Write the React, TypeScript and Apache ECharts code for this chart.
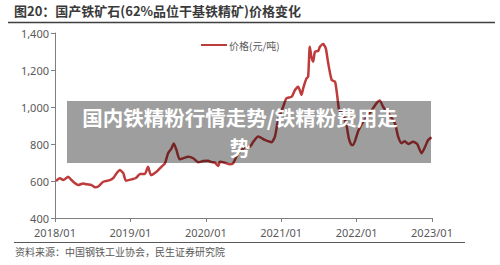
import React, { useEffect, useRef } from "react";
import * as echarts from "echarts";

const titleText = "图20：国产铁矿石(62%品位干基铁精矿)价格变化";
const sourceText = "资料来源：中国钢铁工业协会，民生证券研究院";
const overlayLines = ["国内铁精粉行情走势/铁精粉费用走", "势"];
const seriesName = "价格(元/吨)";
const xTickLabels = ["2018/01", "2019/01", "2020/01", "2021/01", "2022/01", "2023/01"];
const yTicks = [400, 600, 800, 1000, 1200, 1400];

const dates = [
  "2018-01-06", "2018-01-25", "2018-02-10", "2018-03-04", "2018-03-20", "2018-04-22",
  "2018-05-16", "2018-06-02", "2018-06-26", "2018-07-12", "2018-07-28", "2018-08-22",
  "2018-09-23", "2018-10-09", "2018-10-26", "2018-11-11", "2018-11-27", "2018-12-10",
  "2019-01-07", "2019-01-28", "2019-02-16", "2019-03-10", "2019-03-26", "2019-04-09",
  "2019-05-06", "2019-05-30", "2019-06-16", "2019-07-01", "2019-07-18", "2019-07-29",
  "2019-08-11", "2019-08-27", "2019-09-13", "2019-10-07", "2019-11-01", "2019-11-25",
  "2019-12-19", "2020-01-12", "2020-01-30", "2020-02-14", "2020-03-01", "2020-03-08",
  "2020-04-02", "2020-04-26", "2020-05-12", "2020-06-06", "2020-07-16", "2020-08-01",
  "2020-08-18", "2020-09-11", "2020-10-13", "2020-11-15", "2020-12-01", "2020-12-17",
  "2021-01-11", "2021-01-27", "2021-02-20", "2021-03-07", "2021-03-23", "2021-04-08",
  "2021-04-16", "2021-05-02", "2021-05-10", "2021-05-18", "2021-05-26", "2021-06-04",
  "2021-06-12", "2021-06-28", "2021-07-06", "2021-07-22", "2021-08-04", "2021-08-16",
  "2021-09-02", "2021-09-18", "2021-09-29", "2021-10-08", "2021-10-27", "2021-11-13",
  "2021-11-24", "2021-12-07", "2021-12-15", "2022-01-09", "2022-02-02", "2022-03-04",
  "2022-04-06", "2022-04-22", "2022-05-08", "2022-06-02", "2022-07-04", "2022-07-20",
  "2022-08-06", "2022-08-22", "2022-09-08", "2022-10-01", "2022-10-21", "2022-11-11",
  "2022-11-28", "2022-12-13", "2022-12-30",
];

const prices = [
  600, 615, 605, 623, 605, 578,
  587, 582, 578, 566, 570, 596,
  605, 615, 642, 659, 642, 602,
  609, 616, 638, 638, 677, 632,
  650, 677, 696, 750, 777, 803,
  768, 717, 723, 731, 723, 701,
  708, 710, 702, 699, 681, 704,
  699, 690, 696, 750, 785, 785,
  812, 840, 822, 810, 840, 930,
  1002, 1047, 1056, 1092, 1110, 1065,
  1101, 1155, 1164, 1326, 1272, 1245,
  1299, 1304, 1326, 1340, 1317, 1236,
  1146, 1137, 1056, 984, 960, 900,
  830, 795, 795, 870, 920, 966,
  1020, 1035, 1000, 966, 912, 840,
  804, 815, 800, 812, 800, 750,
  785, 822, 836,
];

function monthIndex(d: string): number {
  const [y, m, day] = d.split("-").map(Number);
  const dim = new Date(Date.UTC(y, m, 0)).getUTCDate();
  return (y - 2018) * 12 + (m - 1) + (day - 1) / dim;
}

export default function App() {
  const ref = useRef<HTMLDivElement>(null);
  useEffect(() => {
    if (!ref.current) return;
    const chart = echarts.init(ref.current, undefined, { renderer: "svg" });
    const data = dates.map((d, i) => [monthIndex(d), prices[i]]);
    const font = "'Noto Sans CJK SC', 'Noto Sans', sans-serif";
    const numFont = "'Noto Sans', 'Open Sans', sans-serif";
    chart.setOption({
      animation: false,
      textStyle: { fontFamily: font },
      grid: { left: 55, right: 68, top: 33, bottom: 47, containLabel: false },
      legend: {
        data: [seriesName],
        left: 196,
        top: 35,
        itemWidth: 26,
        itemHeight: 10,
        itemGap: 2,
        icon: "path://M0,4L26,4L26,6L0,6Z",
        textStyle: { fontSize: 10, color: "#595959", fontFamily: font, padding: [0, 0, 0, -3] },
      },
      xAxis: {
        type: "value",
        min: 0,
        max: 60,
        interval: 12,
        axisLine: { lineStyle: { color: "#7f7f7f", width: 1 } },
        axisTick: { show: true, length: 4, lineStyle: { color: "#7f7f7f" } },
        splitLine: { show: false },
        axisLabel: {
          color: "#595959",
          fontSize: 11,
          fontFamily: numFont,
          margin: 9,
          formatter: (v: number) => xTickLabels[Math.round(v / 12)] ?? "",
        },
      },
      yAxis: {
        type: "value",
        min: yTicks[0],
        max: yTicks[yTicks.length - 1],
        interval: 200,
        axisLine: { show: true, lineStyle: { color: "#7f7f7f", width: 1 } },
        axisTick: { show: true, length: 4, lineStyle: { color: "#7f7f7f" } },
        splitLine: { show: false },
        axisLabel: {
          color: "#595959",
          fontSize: 11,
          fontFamily: numFont,
          margin: 6,
          formatter: (v: number) => v.toLocaleString("en-US"),
        },
      },
      series: [
        {
          name: seriesName,
          type: "line",
          data,
          showSymbol: false,
          symbol: "none",
          smooth: 0.2,
          lineStyle: { color: "#be3b3b", width: 2.5 },
          itemStyle: { color: "#be3b3b" },
          z: 2,
        },
      ],
      graphic: [
        {
          type: "text",
          left: 14,
          top: 4,
          style: {
            text: titleText,
            fill: "#3a3a3a",
            font: `bold 13px ${font}`,
          },
        },
        {
          type: "line",
          shape: { x1: 8, y1: 22.5, x2: 495, y2: 22.5 },
          style: { stroke: "#3f3f3f", lineWidth: 1.5 },
        },
        {
          type: "line",
          shape: { x1: 14, y1: 242.5, x2: 465, y2: 242.5 },
          style: { stroke: "#595959", lineWidth: 1 },
        },
        {
          type: "text",
          left: 15,
          top: 246,
          style: {
            text: sourceText,
            fill: "#595959",
            font: `10px ${font}`,
          },
        },
        {
          type: "rect",
          shape: { x: 67, y: 101, width: 364, height: 62 },
          style: { fill: "rgba(0,0,0,0.38)" },
          z: 100,
        },
        {
          type: "text",
          x: 240,
          y: 117,
          z: 101,
          style: {
            text: overlayLines[0],
            align: "center",
            verticalAlign: "middle",
            lineHeight: 22,
            fill: "#ffffff",
            font: `bold 20.5px ${font}`,
          },
        },
        {
          type: "text",
          x: 240,
          y: 147,
          z: 101,
          style: {
            text: overlayLines[1],
            align: "center",
            verticalAlign: "middle",
            lineHeight: 22,
            fill: "#ffffff",
            font: `bold 20.5px ${font}`,
          },
        },
      ],
    });
    return () => chart.dispose();
  }, []);
  return <div ref={ref} style={{ width: 500, height: 265, position: "absolute", left: 0, top: 0 }} />;
}
